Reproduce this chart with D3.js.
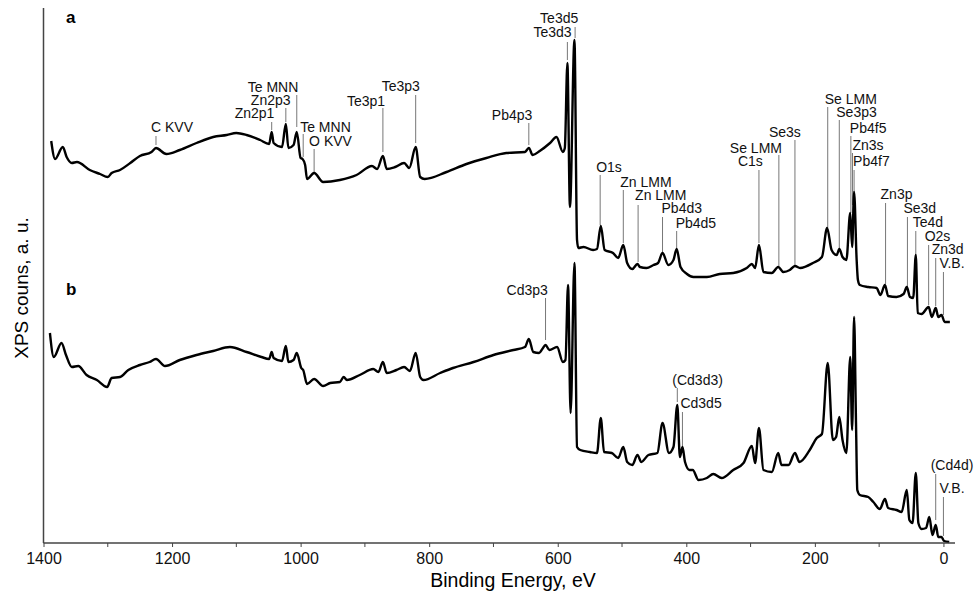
<!DOCTYPE html>
<html>
<head>
<meta charset="utf-8">
<script src="https://cdn.jsdelivr.net/npm/d3@7"></script>
<style>
  body { margin: 0; background: #fff; }
  svg text { font-family: Arial, "Liberation Sans", sans-serif; }
  .ann { font-size: 14px; fill: #111; }
  .x-axis text { font-size: 16px; fill: #111; }
</style>
</head>
<body>
<div class="chart"></div>
<script>
// spectrum a: binding energy (eV) and counts (a.u.)
const energyA = [1388,1382,1370,1364,1356,1348,1328,1312,1300,1294,1281,1265,1250,1232,1225,1209,1188,1162,1136,1115,1100,1084,1063,1049,1045,1042,1029,1023,1019,1011,1006,1000,997,993,990,979,965,939,913,889,881,872,866,853,839,831,821,814,807,773,742,711,680,651,645,639,628,612,602,592,589,585,581,574,570,568,560,545,539,533,527,514,506,498,492,484,476,472,462,451,444,437,428,420,415,409,399,389,368,348,327,306,298,293,287,280,267,257,249,239,231,223,203,189,181,174,166,162,157,151,145,142,139,135,133,130,117,104,98,91,86,73,62,57,52,47,43,40,34,23,18,12,8,3,-2,-10];
const countsA = [402,384,396,386,380,381,373,369,366,370,373,380,387,391,395,389,393,400,406,408,410,408,403,399,411,400,396,419,395,398,411,385,384,378,364,370,361,363,368,377,374,387,374,376,380,375,396,366,364,371,379,385,390,391,395,388,392,400,406,391,395,480,336,503,303,295,296,293,294,317,293,290,285,298,280,274,279,276,275,278,280,290,278,283,294,276,269,266,266,269,270,275,279,275,298,271,270,276,271,273,277,275,280,286,315,293,288,294,286,283,330,296,351,283,263,258,256,255,248,258,247,246,249,256,246,245,288,230,229,236,226,235,226,228,221,221];

// spectrum b
const energyB = [1390,1384,1372,1365,1356,1346,1333,1317,1301,1294,1281,1268,1250,1235,1225,1211,1188,1162,1136,1110,1084,1061,1049,1045,1042,1029,1023,1019,1011,1006,999,996,990,979,965,954,939,933,928,908,887,879,872,866,851,839,830,821,814,809,783,763,731,700,669,651,645,638,629,624,619,613,601,592,588,584,580,574,570,565,550,539,533,528,516,506,498,492,484,476,470,459,445,437,427,420,414,410,406,402,395,390,381,368,358,345,327,311,298,293,287,280,267,257,252,241,231,224,208,197,189,180,172,167,162,157,151,145,142,139,136,134,130,117,109,99,91,86,73,65,57,53,48,43,39,34,27,22,17,12,8,3,-1,-9];
const countsB = [210,186,200,188,176,177,168,163,156,165,166,173,178,181,184,177,183,188,192,196,191,186,184,191,185,182,197,181,183,190,175,173,159,164,157,160,161,166,163,168,174,171,181,170,173,176,172,190,166,163,170,175,181,188,193,196,204,191,190,194,198,193,196,181,183,258,130,280,96,93,91,90,125,91,90,85,96,81,78,88,81,88,90,120,90,96,138,86,96,81,73,73,63,65,69,65,73,80,97,80,115,73,71,90,78,78,90,81,93,105,109,180,103,106,126,103,90,186,113,226,120,53,48,46,41,34,44,35,33,31,53,23,20,70,20,14,15,26,8,18,6,6,2,1];

const xTicks = [1400, 1200, 1000, 800, 600, 400, 200, 0];
const xMinorTicks = [1300, 1100, 900, 700, 500, 300, 100];

// peak labels: text, energy of the leader line, text baseline / line top / line bottom (counts), text offset
const labelsA = [
  ["C KVV", 1225, 411, 407, 398, -5],
  ["Zn2p1", 1045, 425, 421, 413, -37],
  ["Zn2p3", 1023, 438, 435, 421, -35],
  ["Te MNN", 1006, 451, 448, 416, -49],
  ["Te MNN", 996, 411, 409, 386, -3],
  ["O KVV", 979, 397, 394, 371, -5],
  ["Te3p1", 872, 437, 435, 391, -36],
  ["Te3p3", 821, 452, 448, 400, -34],
  ["Pb4p3", 645, 423, 420, 398, -37],
  ["Te3d5", 573, 520, 516, 505, -35],
  ["Te3d3", 585, 506, 501, 483, -34],
  ["O1s", 534, 371, 368, 318, -4],
  ["Zn LMM", 498, 356, 353, 300, -3],
  ["Zn LMM", 475, 343, 338, 281, -3],
  ["Pb4d3", 437, 330, 326, 291, -1],
  ["Pb4d5", 415, 315, 312, 295, -1],
  ["Se LMM", 256, 390, 388, 277, -49],
  ["C1s", 287, 377, 373, 300, -21],
  ["Se3s", 231, 406, 403, 278, -26],
  ["Se LMM", 180, 439, 436, 315, -3],
  ["Se3p3", 162, 426, 423, 295, -3],
  ["Pb4f5", 144, 410, 407, 330, -1],
  ["Zn3s", 141.5, 393, 390, 338, 0],
  ["Pb4f7", 139, 377, 373, 351, -1],
  ["Zn3p", 90, 344, 340, 259, -5],
  ["Se3d", 56, 330, 326, 255, -4],
  ["Te4d", 43, 316, 312, 288, -3],
  ["O2s", 23, 302, 298, 238, -4],
  ["Zn3d", 12, 289, 285, 237, -4],
  ["V.B.", 0, 275, 271, 228, -4]
];
const labelsB = [
  ["Cd3p3", 619, 248, 245, 203, -39],
  ["(Cd3d3)", 414, 158, 155, 141, -5],
  ["Cd3d5", 406, 135, 131, 90, -2],
  ["(Cd4d)", 12, 73, 69, 23, -5],
  ["V.B.", 0, 50, 46, 7, -4]
];

const width = 976, height = 596;

const svg = d3.select(".chart")
  .append("svg")
  .attr("width", width)
  .attr("height", height);

const xScale = d3.scaleLinear().domain([1400, -18]).range([43.5, 955]);
const yScale = d3.scaleLinear().domain([0, 535]).range([543, 8]);

const line = d3.line()
  .x((d) => xScale(d[0]))
  .y((d) => yScale(d[1]))
  .curve(d3.curveMonotoneX);

const seriesA = energyA.map((e, i) => [e, countsA[i]]);
const seriesB = energyB.map((e, i) => [e, countsB[i]]);

// leader lines + labels
function drawLabels(labels) {
  const g = svg.append("g");
  g.selectAll("line")
    .data(labels)
    .enter()
    .append("line")
    .attr("x1", (d) => xScale(d[1]))
    .attr("x2", (d) => xScale(d[1]))
    .attr("y1", (d) => yScale(d[3]))
    .attr("y2", (d) => yScale(d[4]))
    .attr("stroke", "#777")
    .attr("stroke-width", 1);
  g.selectAll("text")
    .data(labels)
    .enter()
    .append("text")
    .attr("class", "ann")
    .attr("x", (d) => xScale(d[1]) + d[5])
    .attr("y", (d) => yScale(d[2]))
    .text((d) => d[0]);
}
drawLabels(labelsA);
drawLabels(labelsB);

// spectra
[seriesA, seriesB].forEach((s) => {
  svg.append("path")
    .datum(s)
    .attr("d", line)
    .attr("fill", "none")
    .attr("stroke", "#000")
    .attr("stroke-width", 2.4)
    .attr("stroke-linejoin", "round");
});

// axes
const xAxis = d3.axisBottom(xScale).tickValues(xTicks).tickSize(4).tickPadding(6).tickFormat(d3.format("d"));
const gx = svg.append("g")
  .attr("class", "x-axis")
  .attr("transform", "translate(0,543)")
  .call(xAxis);
gx.append("g")
  .selectAll("line")
  .data(xMinorTicks)
  .enter()
  .append("line")
  .attr("x1", (d) => xScale(d))
  .attr("x2", (d) => xScale(d))
  .attr("y1", 0)
  .attr("y2", 4)
  .attr("stroke", "#444");
gx.select(".domain").attr("stroke", "#444").attr("stroke-width", 1.5).attr("d", "M43.5,0H955");
gx.selectAll(".tick line").attr("stroke", "#444");

svg.append("line")
  .attr("x1", 43.5).attr("x2", 43.5)
  .attr("y1", 8).attr("y2", 543)
  .attr("stroke", "#444")
  .attr("stroke-width", 1.5);

svg.append("text")
  .attr("x", 513)
  .attr("y", 587)
  .attr("text-anchor", "middle")
  .style("font-size", "19.5px")
  .text("Binding Energy, eV");

svg.append("text")
  .attr("transform", "translate(28,288) rotate(-90)")
  .attr("text-anchor", "middle")
  .style("font-size", "19px")
  .text("XPS couns, a. u.");

svg.append("text")
  .attr("x", 66).attr("y", 23)
  .style("font-size", "17px").style("font-weight", "bold")
  .text("a");
svg.append("text")
  .attr("x", 66).attr("y", 295)
  .style("font-size", "17px").style("font-weight", "bold")
  .text("b");
</script>
</body>
</html>
